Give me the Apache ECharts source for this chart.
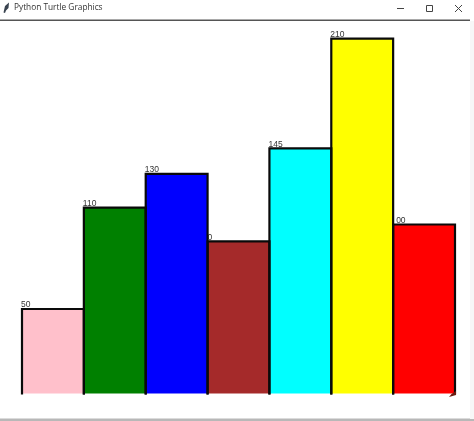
<!DOCTYPE html>
<html><head><meta charset="utf-8">
<style>html,body{margin:0;padding:0;background:#fff}#c{width:474px;height:421px}</style>
<script src="https://cdn.jsdelivr.net/npm/echarts@6/dist/echarts.min.js"></script>
</head><body><div id="c"></div>
<script>
const categories = ['a','b','c','d','e','f','g'];
const values = [50,110,130,90,145,210,100];
const colors = ['#ffc0cb','#008000','#0000ff','#a52a2a','#00ffff','#ffff00','#ff0000'];
const shownLabels = ['50','110','130','0','145','210','00'];
const labelShift = [-1,-1,-1,0,-1,-1,3];
const windowTitle = 'Python Turtle Graphics';

const chart = echarts.init(document.getElementById('c'), null, {renderer:'canvas'});
chart.setOption({
  animation:false,
  backgroundColor:'#ffffff',
  grid:{left:22,top:21.7,width:433,height:371.8,containLabel:false},
  xAxis:{type:'category',data:categories,show:false,boundaryGap:true},
  yAxis:{type:'value',min:0,max:220,show:false},
  series:[
    {type:'bar',barWidth:'100%',barGap:'-100%',silent:true,
     data:values.map((v,i)=>({value:v,itemStyle:{color:colors[i]},
       label:{show:true,formatter:shownLabels[i],position:[labelShift[i],-8.5],
         fontFamily:'Liberation Sans',fontSize:8.5,color:'#333333'}}))},
    {type:'custom',silent:true,data:values.map((v,i)=>[i,v]),z:5,
     renderItem(params,api){
       const i=api.value(0), v=api.value(1);
       const bw=api.size([1,0])[0];
       const top=api.coord([i,v]), base=api.coord([i,0]);
       const l=top[0]-bw/2, r=top[0]+bw/2;
       return {type:'polyline',shape:{points:[[l,base[1]+1],[l,top[1]],[r,top[1]],[r,base[1]+1]]},
         style:{fill:null,stroke:'#0a0a0a',lineWidth:2.2}};
     }}
  ],
  graphic:[
    {type:'rect',shape:{x:0,y:19.5,width:470,height:1.5},style:{fill:'#555555'},z:10},
    {type:'rect',shape:{x:0,y:418.5,width:474,height:2.5},style:{fill:'#b8b8b8'},z:10},
    {type:'rect',shape:{x:470,y:21,width:4,height:398},style:{fill:'#f7f7f7'},z:10},
    {type:'polygon',shape:{points:[[3.5,12.5],[5,6],[9,2.5],[8.5,8],[6,10.5],[5,13]]},style:{fill:'#3a4450'},z:10},
    {type:'text',x:14,y:4,style:{text:windowTitle,fontFamily:'Open Sans',fontSize:8.3,fill:'#333333'},z:10},
    {type:'rect',shape:{x:397,y:8,width:7,height:1},style:{fill:'#444444'},z:10},
    {type:'rect',shape:{x:426.5,y:5.5,width:6,height:6},style:{fill:'none',stroke:'#444444',lineWidth:1},z:10},
    {type:'line',shape:{x1:455,y1:5,x2:462,y2:12},style:{stroke:'#444444',lineWidth:1},z:10},
    {type:'line',shape:{x1:462,y1:5,x2:455,y2:12},style:{stroke:'#444444',lineWidth:1},z:10},
    {type:'polygon',shape:{points:[[456,391],[456,395],[449,397],[451.5,394]]},style:{fill:'#6b1a10'},z:10}
  ]
});
</script></body></html>
